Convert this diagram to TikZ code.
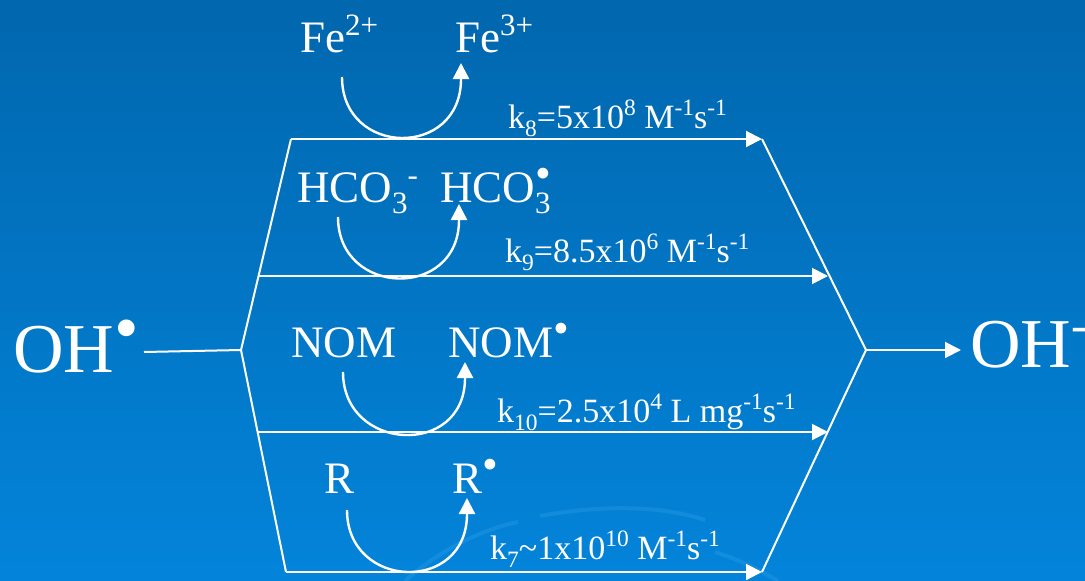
\documentclass[tikz,border=0pt]{standalone}
\usepackage{fontspec}
\setmainfont{Liberation Serif}
\usepackage{graphicx}
\usetikzlibrary{arrows.meta,calc}
\definecolor{bgtop}{HTML}{0167AE}
\definecolor{bgmid}{HTML}{016EB9}
\definecolor{bgbot}{HTML}{0384DA}
\definecolor{swoosh}{HTML}{2A9BE6}
\newcommand\chup[1]{\raisebox{0.37em}{\scalebox{0.69}{#1}}}
\newcommand\chdn[1]{\raisebox{-0.25em}{\scalebox{0.69}{#1}}}
\newcommand\rad{\raisebox{0.3em}{\textbullet}}

\begin{document}
\begin{tikzpicture}[x=1pt, y=-1pt,
  every node/.style={inner sep=0pt, anchor=base west, text=white},
  big/.style={font=\fontsize{70}{80}\selectfont},
  spec/.style={font=\fontsize{45}{54}\selectfont},
  rate/.style={font=\fontsize{34}{40}\selectfont},
  line/.style={draw=white, line width=2pt},
  arr/.style={line, -{Triangle[width=16pt,length=16pt]}},
  turn/.style={arr, line width=2.4pt},
  bgarc/.style={draw=swoosh, line width=4pt, opacity=0.4}
]
\useasboundingbox (0,0) rectangle (1085,581);

%% background
\shade[top color=bgtop, middle color=bgmid, bottom color=bgbot] (0,0) rectangle (1085,581);
\draw[bgarc] (405,581) .. controls (440,550) and (480,530) .. (518,522);
\draw[bgarc] (540,516) .. controls (600,505) and (660,505) .. (705,520);
\draw[bgarc] (715,552) .. controls (740,560) and (760,570) .. (778,581);

%% radicals in and out
\node[big] (ohin)  at (13,372)  {OH\rad};
\node[big] (ohout) at (970,367) {OH\chup{-}};

%% scavengers
\node[spec] (fe2)  at (300,52)  {Fe\chup{2+}};
\node[spec] (fe3)  at (455,52)  {Fe\chup{3+}};
\node[spec] (hco)  at (297,202) {HCO\chdn{3}\chup{-}};
\node[spec] (hcor) at (440,202) {HCO\rlap{\chdn{3}}\rad};
\node[spec] (nom)  at (291,357) {NOM};
\node[spec] (nomr) at (448,357) {NOM\rad};
\node[spec] (r)    at (324,493) {R};
\node[spec] (rr)   at (452,493) {R\rad};

%% rate constants
\node[rate] (k8)  at (508,128) {k\chdn{8}=5x10\chup{8} M\chup{-1}s\chup{-1}};
\node[rate] (k9)  at (505,262) {k\chdn{9}=8.5x10\chup{6} M\chup{-1}s\chup{-1}};
\node[rate] (k10) at (497,422) {k\chdn{10}=2.5x10\chup{4} L mg\chup{-1}s\chup{-1}};
\node[rate] (k7)  at (490,559) {k\chdn{7}\textasciitilde1x10\chup{10} M\chup{-1}s\chup{-1}};

%% branch points
\coordinate (o1) at (144,352);
\coordinate (fl) at (241,350);
\coordinate (fr) at (866,350);
\coordinate (l1) at (291,139);   \coordinate (r1) at (762,139);
\coordinate (l2) at (258.5,276); \coordinate (r2) at (828,276);
\coordinate (l3) at (257.5,432); \coordinate (r3) at (828,432);
\coordinate (l4) at (286,572);   \coordinate (r4) at (762,572);

\draw[line] (o1) -- (fl);
\draw[line] (l1) -- (fl) -- (l4);
\draw[line] (r1) -- (fr) -- (r4);
\foreach \a/\b in {l1/r1, l2/r2, l3/r3, l4/r4}
  \draw[arr] (\a) -- (\b);
\draw[arr] (fr) -- ([xshift=-9pt]ohout.west |- fr);

%% turnover arcs
\foreach \i/\xs/\ys/\xe/\ye in {1/342/77/461/79, 2/338/217/459/220,
                                3/343/372/465/378, 4/347/510/467/514} {
  \coordinate (s\i) at (\xs,\ys);
  \coordinate (e\i) at (\xe,\ye);
  \draw[turn] (s\i) .. controls +(0,80) and +(0,80) .. (e\i) -- ++(0,-16);
}

\end{tikzpicture}
\end{document}
